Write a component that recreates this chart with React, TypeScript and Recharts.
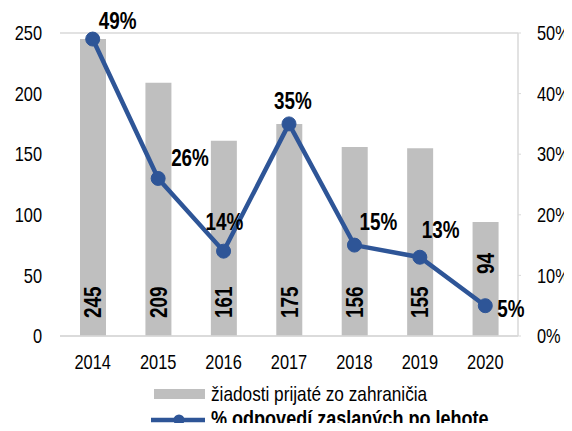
import React from 'react';
import { ComposedChart, Bar, Line, XAxis, YAxis, CartesianGrid, LabelList } from 'recharts';

const years = ['2014', '2015', '2016', '2017', '2018', '2019', '2020'];
const requests = [245, 209, 161, 175, 156, 155, 94];
const latePct = [49, 26, 14, 35, 15, 13, 5];
const leftTicks = [0, 50, 100, 150, 200, 250];
const rightTicks = [0, 10, 20, 30, 40, 50];
const barName = 'žiadosti prijaté zo zahraničia';
const lineName = '% odpovedí zaslaných po lehote';

const data = years.map((y, i) => ({ year: y, requests: requests[i], pct: latePct[i] }));

const FONT = '"Liberation Sans", Arial, sans-serif';
const BLUE = '#2E5597';
const GRAY = '#BFBFBF';
const GRID = '#D9D9D9';
const NARROW = 0.82;

// condensed text (emulates a narrow sans-serif face)
const NText = ({ x, y, size, bold = false, anchor = 'start', dy = '0', rotate = 0, children }: any) => (
  <text
    transform={`translate(${x},${y}) rotate(${rotate}) scale(${NARROW},1)`}
    x={0}
    y={0}
    dy={dy}
    fontFamily={FONT}
    fontSize={size}
    fontWeight={bold ? 'bold' : 'normal'}
    fill="#000"
    textAnchor={anchor}
  >
    {children}
  </text>
);

const XTick = (p: any) => (
  <NText x={p.x} y={p.y} size={20} anchor="middle" dy="0.71em">{p.payload.value}</NText>
);
const LeftTick = (p: any) => (
  <NText x={p.x} y={p.y} size={20} anchor="end" dy="0.355em">{p.payload.value}</NText>
);
const RightTick = (p: any) => (
  <NText x={p.x} y={p.y} size={20} anchor="start" dy="0.355em">{`${p.payload.value}%`}</NText>
);

// label placement offsets relative to each point (dx, dy)
const pctLabelOffsets: [number, number][] = [
  [6, -10], [13, -12], [-18, -21], [-15, -15], [5, -15], [2, -19], [12, 11],
];

const PctLabel = (props: any) => {
  const { x, y, value, index } = props;
  const [dx, dy] = pctLabelOffsets[index] || [0, -10];
  return <NText x={x + dx} y={y + dy} size={23} bold>{`${value}%`}</NText>;
};

const BarValueLabel = (props: any) => {
  const { x, y, width, height, value } = props;
  const base = y + height;
  const cx = x + width / 2;
  const start = value < 100 ? base - 62 : base - 18;
  return (
    <NText x={cx} y={start} size={23} bold rotate={-90} dy="0.36em">{value}</NText>
  );
};

const Legend = () => (
  <svg width={572} height={63} style={{ position: 'absolute', left: 0, top: 368, overflow: 'visible' }}>
    <rect x={154} y={21} width={51} height={10} fill={GRAY} />
    <NText x={211} y={33} size={21}>{barName}</NText>
    <line x1={151} x2={205} y1={52} y2={52} stroke={BLUE} strokeWidth={4.5} />
    <circle cx={179} cy={52} r={5.5} fill={BLUE} />
    <NText x={211} y={58} size={22} bold>{lineName}</NText>
  </svg>
);

export default function App() {
  return (
    <div style={{ position: 'relative', width: 572, height: 431, margin: -8, overflow: 'hidden' }}>
      <style>{'html, body { overflow: hidden; }'}</style>
      <ComposedChart width={572} height={431} data={data} margin={{ top: 33, right: 0, bottom: 63, left: 0 }}>
        <CartesianGrid vertical={false} stroke={GRID} strokeWidth={1.5} />
        <XAxis
          dataKey="year"
          height={32}
          tickLine={false}
          axisLine={{ stroke: GRID, strokeWidth: 1.5 }}
          tickMargin={13}
          tick={XTick}
        />
        <YAxis
          yAxisId="left"
          width={60}
          domain={[0, 250]}
          ticks={leftTicks}
          tickLine={false}
          axisLine={false}
          tickMargin={12}
          tick={LeftTick}
        />
        <YAxis
          yAxisId="right"
          orientation="right"
          width={54}
          domain={[0, 50]}
          ticks={rightTicks}
          tickLine={{ stroke: GRID }}
          tickSize={3}
          axisLine={{ stroke: GRID, strokeWidth: 1.5 }}
          tickMargin={16}
          tick={RightTick}
        />
        <Bar yAxisId="left" dataKey="requests" name={barName} fill={GRAY} barSize={26} isAnimationActive={false}>
          <LabelList dataKey="requests" content={BarValueLabel} />
        </Bar>
        <Line
          yAxisId="right"
          dataKey="pct"
          name={lineName}
          stroke={BLUE}
          strokeWidth={4.5}
          dot={{ r: 7, fill: BLUE, stroke: BLUE, strokeWidth: 1 }}
          isAnimationActive={false}
        >
          <LabelList dataKey="pct" content={PctLabel} />
        </Line>
      </ComposedChart>
      <Legend />
    </div>
  );
}
